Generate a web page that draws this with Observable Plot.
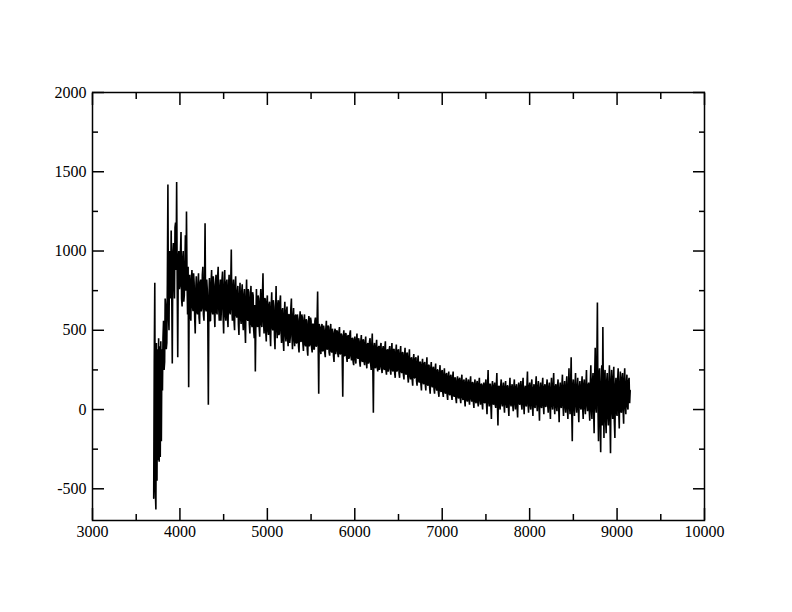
<!DOCTYPE html>
<html>
<head>
<meta charset="utf-8">
<script src="https://cdn.jsdelivr.net/npm/d3@7"></script>
<script src="https://cdn.jsdelivr.net/npm/@observablehq/plot@0.6"></script>
<style>
  html, body { margin: 0; padding: 0; background: #fff; overflow: hidden; }
</style>
</head>
<body>
<div id="chart"></div>
<script>
const lambdaStart = 3700;
const lambdaStep = 6.25;

// 3700 – 4993.75 Å
const fluxA = [
  -560, 300, 800, -520, -630, 420, -450, 380, -320, 450, -330, 400, -300, 430, -200, 380,
  120, 450, 560, 250, 300, 700, 650, 380, 420, 800, 1420, 600, 500, 1000, 950, 700,
  1130, 750, 290, 980, 1050, 820, 700, 1150, 1180, 880, 1435, 800, 330, 950, 1000, 760,
  780, 1000, 1120, 700, 650, 950, 1000, 680, 720, 900, 1100, 750, 1250, 820, 600, 900,
  140, 780, 850, 600, 560, 820, 880, 650, 620, 860, 800, 580, 480, 760, 840, 620,
  600, 780, 860, 580, 540, 800, 820, 620, 640, 850, 900, 600, 560, 760, 1175, 640,
  620, 820, 760, 580, 30, 700, 830, 560, 560, 800, 880, 620, 600, 840, 790, 600,
  520, 780, 850, 620, 600, 840, 900, 640, 560, 760, 820, 560, 640, 820, 870, 600,
  480, 760, 880, 600, 560, 800, 820, 580, 520, 780, 850, 620, 600, 800, 1010, 640,
  560, 760, 820, 560, 500, 780, 840, 600, 580, 740, 780, 540, 470, 720, 800, 580,
  540, 740, 790, 560, 500, 720, 760, 520, 420, 700, 820, 580, 560, 760, 740, 540,
  480, 700, 780, 540, 520, 740, 720, 500, 450, 660, 240, 560, 760, 580, 520, 720,
  700, 520, 460, 680, 760, 540, 520, 720, 860, 560, 480, 700, 700, 500, 430, 680
];
// 5000 – 6493.75 Å
const fluxB = [
  720, 500, 470, 660, 680, 480, 400, 640, 740, 520, 500, 690, 650, 460, 380, 620,
  780, 520, 450, 660, 690, 470, 480, 680, 720, 500, 420, 620, 640, 440, 370, 600,
  680, 480, 430, 620, 650, 450, 400, 600, 600, 420, 460, 640, 700, 470, 380, 580,
  640, 440, 400, 590, 600, 420, 420, 600, 570, 400, 360, 560, 620, 430, 430, 600,
  580, 420, 370, 560, 600, 410, 400, 570, 560, 380, 340, 540, 590, 400, 410, 580,
  560, 390, 360, 540, 540, 380, 380, 560, 580, 400, 400, 560, 745, 420, 100, 540,
  520, 380, 350, 520, 540, 370, 370, 530, 500, 360, 330, 510, 560, 380, 380, 530,
  520, 360, 340, 500, 540, 370, 360, 510, 480, 340, 300, 490, 510, 350, 370, 500,
  490, 350, 330, 490, 520, 350, 350, 480, 470, 330, 80, 460, 500, 340, 340, 480,
  480, 330, 300, 460, 470, 320, 330, 480, 500, 340, 310, 450, 450, 300, 280, 440,
  460, 320, 290, 440, 480, 330, 320, 450, 430, 300, 270, 430, 470, 310, 300, 440,
  440, 300, 280, 420, 460, 310, 260, 410, 420, 290, 300, 430, 450, 290, 250, 400,
  480, 280, -20, 390, 420, 280, 260, 400, 440, 270, 240, 390, 400, 250, 270, 400,
  420, 260, 230, 380, 400, 260, 250, 390, 430, 250, 220, 370, 380, 240, 260, 380,
  400, 250, 220, 370, 420, 250, 240, 380, 380, 230, 200, 360, 410, 240, 250, 370
];
// 6500 – 7993.75 Å
const fluxC = [
  380, 230, 200, 350, 400, 240, 230, 360, 360, 220, 190, 340, 390, 230, 220, 350,
  360, 210, 170, 330, 380, 210, 190, 320, 330, 190, 150, 310, 350, 200, 200, 320,
  330, 180, 150, 300, 340, 180, 170, 300, 300, 160, 120, 280, 320, 170, 160, 290,
  300, 160, 120, 270, 330, 160, 150, 280, 280, 140, 100, 260, 300, 150, 140, 260,
  270, 130, 100, 250, 290, 140, 120, 250, 250, 110, 80, 230, 280, 120, 110, 240,
  250, 110, 80, 220, 260, 110, 100, 220, 230, 90, 60, 210, 240, 100, 90, 210,
  220, 90, 60, 200, 240, 90, 80, 200, 200, 70, 40, 180, 210, 80, 70, 190,
  200, 70, 40, 180, 220, 80, 60, 180, 190, 60, 20, 170, 200, 60, 50, 170,
  190, 60, 30, 170, 210, 70, 50, 170, 170, 50, 10, 160, 190, 50, 40, 160,
  180, 50, 20, 160, 200, 60, 30, 160, 160, 40, 0, 150, 170, 50, 40, 160,
  190, 40, -30, 150, 250, 50, 20, 160, 160, 30, -60, 140, 180, 40, 30, 150,
  170, 30, 10, 150, 230, 40, -100, 140, 150, 20, 0, 150, 190, 40, 20, 140,
  170, 30, -20, 140, 180, 40, 10, 150, 150, 20, -40, 130, 200, 40, 20, 140,
  160, 30, -10, 140, 190, 40, 0, 140, 160, 20, -50, 130, 170, 40, 30, 150,
  180, 30, 0, 150, 200, 40, -30, 130, 150, 30, 20, 150, 240, 40, -20, 140
];
// 8000 – 9150 Å
const fluxD = [
  170, 30, 0, 150, 190, 30, -40, 130, 160, 20, 10, 150, 210, 40, -10, 140,
  180, 30, -70, 130, 170, 20, 10, 150, 200, 30, -30, 140, 160, 20, 20, 150,
  190, 30, -20, 140, 170, 20, -60, 130, 200, 30, 0, 150, 230, 30, -30, 140,
  160, 20, -10, 150, 190, 30, -80, 130, 170, 20, 10, 150, 220, 30, -40, 140,
  180, 20, -20, 150, 210, 10, -60, 140, 260, 20, -30, 160, 330, 0, -200, 150,
  190, 20, -40, 150, 230, 30, -20, 140, 200, 10, -80, 140, 180, 20, 0, 150,
  210, 10, -60, 160, 190, 20, -30, 150, 250, 30, -10, 150, 170, 0, -70, 160,
  280, 0, -60, 180, 230, 10, -150, 200, 390, 20, -20, 300, 675, 40, -200, 220,
  260, -80, -270, 150, 280, -100, 520, 60, -180, 200, 250, -60, -150, 180, 230, -40,
  -100, 160, 280, -60, -275, 180, 250, 0, -60, 200, 270, -80, -180, 150, 200, -20,
  -40, 180, 260, 0, -120, 160, 240, -10, -20, 200, 230, 0, -90, 190, 260, 20,
  -30, 160, 220, 20, 0, 180, 200, 40, 120
];

const xMajor = [3000, 4000, 5000, 6000, 7000, 8000, 9000, 10000];
const xMinor = [3500, 4500, 5500, 6500, 7500, 8500, 9500];
const yMajor = [-500, 0, 500, 1000, 1500, 2000];
const yMinor = [-250, 250, 750, 1250, 1750];

const flux = [...fluxA, ...fluxB, ...fluxC, ...fluxD];
const spectrum = flux.map((f, i) => ({w: lambdaStart + i * lambdaStep, f}));

const label = d => String(d);
const blank = () => "";

const chart = Plot.plot({
  width: 792,
  height: 612,
  marginLeft: 92,
  marginRight: 88,
  marginTop: 92,
  marginBottom: 92,
  style: {fontFamily: "'Liberation Serif', 'Times New Roman', serif", fontSize: "16px", color: "black", background: "white"},
  x: {domain: [3000, 10000]},
  y: {domain: [-700, 2000]},
  marks: [
    Plot.line(spectrum, {x: "w", y: "f", stroke: "black", strokeWidth: 1.6, strokeLinejoin: "miter"}),
    // inward major/minor ticks on all four sides
    Plot.axisX(xMajor, {anchor: "bottom", tickSize: -12, tickFormat: blank, label: null, strokeWidth: 1.5}),
    Plot.axisX(xMinor, {anchor: "bottom", tickSize: -6, tickFormat: blank, label: null, strokeWidth: 1.5}),
    Plot.axisX(xMajor, {anchor: "top", tickSize: -12, tickFormat: blank, label: null, strokeWidth: 1.5}),
    Plot.axisX(xMinor, {anchor: "top", tickSize: -6, tickFormat: blank, label: null, strokeWidth: 1.5}),
    Plot.axisY(yMajor, {anchor: "left", tickSize: -12, tickFormat: blank, label: null, strokeWidth: 1.5}),
    Plot.axisY(yMinor, {anchor: "left", tickSize: -6, tickFormat: blank, label: null, strokeWidth: 1.5}),
    Plot.axisY(yMajor, {anchor: "right", tickSize: -12, tickFormat: blank, label: null, strokeWidth: 1.5}),
    Plot.axisY(yMinor, {anchor: "right", tickSize: -6, tickFormat: blank, label: null, strokeWidth: 1.5}),
    // tick labels
    Plot.axisX(xMajor, {anchor: "bottom", tickSize: 0, tickPadding: 5, tickFormat: label, label: null, fontSize: 16}),
    Plot.axisY(yMajor, {anchor: "left", tickSize: 0, tickPadding: 6, tickFormat: label, label: null, fontSize: 16}),
    Plot.frame({stroke: "black", strokeWidth: 1.5})
  ]
});

document.getElementById("chart").appendChild(chart);
</script>
</body>
</html>
